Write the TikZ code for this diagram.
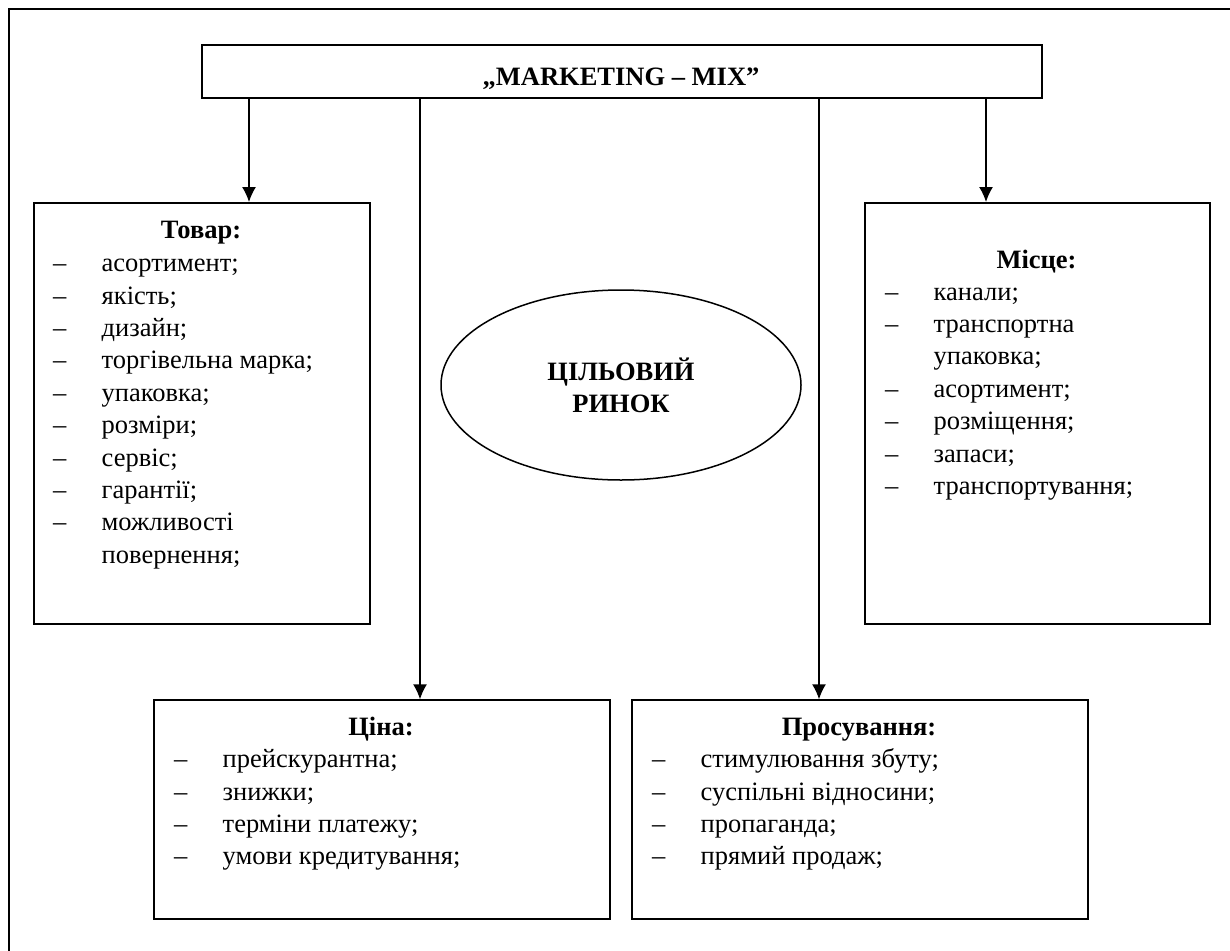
\documentclass[tikz,border=0pt]{standalone}
\usepackage{fontspec}
\setmainfont{Liberation Serif}
\usetikzlibrary{shapes.geometric,arrows.meta}
% body text size and line pitch of the lists
\newcommand{\listsize}{\fontsize{26.5}{32.4}\selectfont}
\newcommand{\dsh}{\makebox[48.5pt][l]{–}}
\begin{document}
\begin{tikzpicture}[x=1pt,y=-1pt,
  box/.style={draw, line width=1.8pt, rectangle, inner sep=0pt, anchor=north west},
  arr/.style={line width=1.4pt, -{Latex[length=15pt,width=14pt]}},
  head/.style={anchor=base, inner sep=0pt, font=\bfseries\listsize},
  list/.style={anchor=base west, inner sep=0pt, font=\listsize},
]
\useasboundingbox (0,0) rectangle (1230,950);
\clip (0,0) rectangle (1230,950);

% outer frame (runs past the page on the right and bottom)
\draw[line width=2pt] (9,9) rectangle (1262,982);

% title box
\node[box, minimum width=840.6pt, minimum height=52.4pt] (mix) at (200.7,44.3) {};
\node[head] (mixtitle) at (621,85) {„MARKETING – MIX”};

% the four element boxes
\node[box, minimum width=336pt, minimum height=420.7pt] (tovar) at (33,202) {};
\node[box, minimum width=345.3pt, minimum height=420.7pt] (misce) at (864,202) {};
\node[box, minimum width=456pt, minimum height=218.4pt] (cina) at (153,699.3) {};
\node[box, minimum width=456.3pt, minimum height=218.4pt] (prosuv) at (630.7,699.3) {};

% target market in the middle
\node[draw, ellipse, line width=1.5pt, minimum width=360pt, minimum height=190pt,
      inner sep=0pt, align=center,
      font=\bfseries\fontsize{26.5}{31.7}\selectfont] (market) at (621,385)
      {ЦІЛЬОВИЙ\\РИНОК};

% connector columns
\coordinate (xa) at (249,0);
\coordinate (xb) at (420,0);
\coordinate (xc) at (819,0);
\coordinate (xd) at (986,0);
\draw[arr] (mix.south -| xa) -- (tovar.north -| xa);
\draw[arr] (mix.south -| xb) -- (cina.north -| xb);
\draw[arr] (mix.south -| xc) -- (prosuv.north -| xc);
\draw[arr] (mix.south -| xd) -- (misce.north -| xd);

% Товар
\node[head] (tovarhead) at (201,238.3) {Товар:};
\node[list] (tovarlist) at (53,271.7) {\begin{tabular}[t]{@{}l@{}l@{}}
\dsh & асортимент;\\
\dsh & якість;\\
\dsh & дизайн;\\
\dsh & торгівельна марка;\\
\dsh & упаковка;\\
\dsh & розміри;\\
\dsh & сервіс;\\
\dsh & гарантії;\\
\dsh & можливості\\
     & повернення;
\end{tabular}};

% Місце
\node[head] (miscehead) at (1036.5,268.3) {Місце:};
\node[list] (miscelist) at (885,300) {\begin{tabular}[t]{@{}l@{}l@{}}
\dsh & канали;\\
\dsh & транспортна\\
     & упаковка;\\
\dsh & асортимент;\\
\dsh & розміщення;\\
\dsh & запаси;\\
\dsh & транспортування;
\end{tabular}};

% Ціна
\node[head] (cinahead) at (381,735) {Ціна:};
\node[list] (cinalist) at (174,767.7) {\begin{tabular}[t]{@{}l@{}l@{}}
\dsh & прейскурантна;\\
\dsh & знижки;\\
\dsh & терміни платежу;\\
\dsh & умови кредитування;
\end{tabular}};

% Просування
\node[head] (prosuvhead) at (859,735) {Просування:};
\node[list] (prosuvlist) at (652,767.7) {\begin{tabular}[t]{@{}l@{}l@{}}
\dsh & стимулювання збуту;\\
\dsh & суспільні відносини;\\
\dsh & пропаганда;\\
\dsh & прямий продаж;
\end{tabular}};
\end{tikzpicture}
\end{document}
